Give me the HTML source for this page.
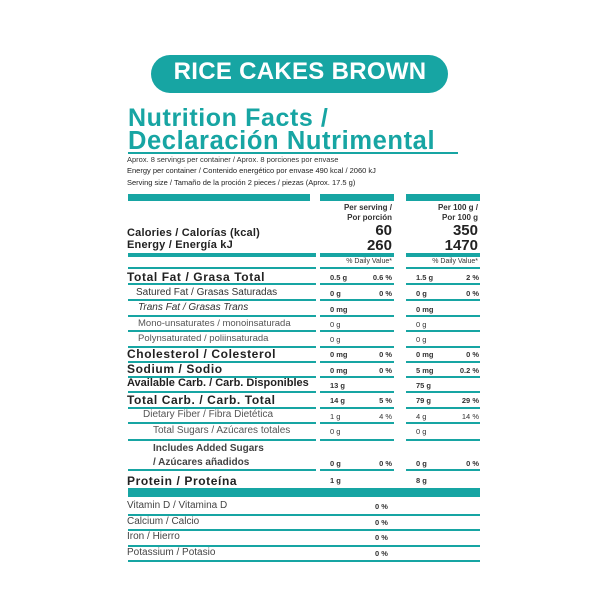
<!DOCTYPE html>
<html><head><meta charset="utf-8"><style>
body{margin:0;width:600px;height:600px;background:#fff;position:relative;overflow:hidden;font-family:"Liberation Sans",sans-serif;color:#333}
.a{position:absolute;white-space:nowrap}
.t{color:#17a5a3;font-weight:bold}
.ln{position:absolute;height:2px;background:#17a5a3}
.b{font-weight:bold}
.r{text-align:right}
.big{font-weight:bold;font-size:12px;letter-spacing:0.6px;color:#222}
</style></head><body>
<div class="a" style="left:151px;top:55px;width:297px;height:38px;background:#17a5a3;border-radius:19px"></div>
<div class="a b" style="left:150px;top:58px;width:300px;text-align:center;color:#fff;font-size:24px;letter-spacing:0.3px">RICE CAKES BROWN</div>
<div class="a t" style="left:128px;top:104px;font-size:25px;letter-spacing:0.6px">Nutrition Facts /</div>
<div class="a t" style="left:128px;top:127px;font-size:25.5px;letter-spacing:0.6px">Declaración Nutrimental</div>
<div class="ln" style="left:128px;top:152px;width:330px;height:1.5px"></div>
<div class="a" style="left:127px;top:155px;font-size:7.5px">Aprox. 8 servings per container / Aprox. 8 porciones por envase</div>
<div class="a" style="left:127px;top:166px;font-size:7.5px;color:#222">Energy per container / Contenido energético por envase 490 kcal / 2060 kJ</div>
<div class="a" style="left:127px;top:178px;font-size:7.5px;color:#222">Serving size / Tamaño de la proción 2 pieces / piezas (Aprox. 17.5 g)</div>
<div class="ln" style="left:128px;top:194px;width:182px;height:7px"></div>
<div class="ln" style="left:320px;top:194px;width:74px;height:7px"></div>
<div class="ln" style="left:406px;top:194px;width:74px;height:7px"></div>
<div class="a b r" style="left:300px;top:203px;width:92px;font-size:8px;line-height:9.5px">Per serving /<br>Por porción</div>
<div class="a b r" style="left:390px;top:203px;width:88px;font-size:8px;line-height:9.5px">Per 100 g /<br>Por 100 g</div>
<div class="a b r" style="left:300px;top:222px;width:92px;font-size:15px;color:#222">60</div>
<div class="a b r" style="left:390px;top:222px;width:88px;font-size:15px;color:#222">350</div>
<div class="a b r" style="left:300px;top:237px;width:92px;font-size:15px;color:#222">260</div>
<div class="a b r" style="left:390px;top:237px;width:88px;font-size:15px;color:#222">1470</div>
<div class="a b" style="left:127px;top:227px;font-size:11px;letter-spacing:0.2px;color:#222">Calories / Calorías (kcal)</div>
<div class="a b" style="left:127px;top:239px;font-size:11px;letter-spacing:0.2px;color:#222">Energy / Energía kJ</div>
<div class="ln" style="left:128px;top:253px;width:188px;height:4px"></div>
<div class="ln" style="left:320px;top:253px;width:74px;height:4px"></div>
<div class="ln" style="left:406px;top:253px;width:74px;height:4px"></div>
<div class="a r" style="left:300px;top:258px;width:92px;font-size:7px">% Daily Value*</div>
<div class="a r" style="left:390px;top:258px;width:88px;font-size:7px">% Daily Value*</div>
<div class="ln" style="left:128px;top:267px;width:188px"></div>
<div class="ln" style="left:320px;top:267px;width:74px"></div>
<div class="ln" style="left:406px;top:267px;width:74px"></div>

<div class="a big" style="left:127px;top:270px">Total Fat / Grasa Total</div>
<div class="a" style="left:136px;top:287px;font-size:10px">Satured Fat / Grasas Saturadas</div>
<div class="a" style="left:138px;top:302px;font-size:10px;font-style:italic">Trans Fat / Grasas Trans</div>
<div class="a" style="left:138px;top:318px;font-size:9.5px;color:#555">Mono-unsaturates / monoinsaturada</div>
<div class="a" style="left:138px;top:333px;font-size:9.5px;color:#555">Polynsaturated / poliinsaturada</div>
<div class="a big" style="left:127px;top:347px">Cholesterol / Colesterol</div>
<div class="a big" style="left:127px;top:362px">Sodium / Sodio</div>
<div class="a big" style="left:127px;top:377px;font-size:11px;letter-spacing:0px">Available Carb. / Carb. Disponibles</div>
<div class="a big" style="left:127px;top:393px">Total Carb. / Carb. Total</div>
<div class="a" style="left:143px;top:409px;font-size:10px;color:#555">Dietary Fiber / Fibra Dietética</div>
<div class="a" style="left:153px;top:425px;font-size:10px;color:#555">Total Sugars / Azúcares totales</div>
<div class="a b" style="left:153px;top:442px;font-size:10px;line-height:14px;color:#444">Includes Added Sugars<br>/ Azúcares añadidos</div>
<div class="a big" style="left:127px;top:474px">Protein / Proteína</div>

<div class="ln" style="left:128px;top:488px;width:352px;height:9px"></div>
<div class="a" style="left:127px;top:500px;font-size:10px;color:#444">Vitamin D / Vitamina D</div>
<div class="a" style="left:127px;top:516px;font-size:10px;color:#444">Calcium / Calcio</div>
<div class="a" style="left:127px;top:531px;font-size:10px;color:#444">Iron / Hierro</div>
<div class="a" style="left:127px;top:547px;font-size:10px;color:#444">Potassium / Potasio</div>
<div class="a b" style="left:375px;top:502px;font-size:7.5px">0 %</div>
<div class="a b" style="left:375px;top:518px;font-size:7.5px">0 %</div>
<div class="a b" style="left:375px;top:533px;font-size:7.5px">0 %</div>
<div class="a b" style="left:375px;top:549px;font-size:7.5px">0 %</div>
<div class="ln" style="left:128px;top:514px;width:352px;height:1.5px"></div>
<div class="ln" style="left:128px;top:529px;width:352px;height:1.5px"></div>
<div class="ln" style="left:128px;top:545px;width:352px;height:1.5px"></div>
<div class="ln" style="left:128px;top:560px;width:352px;height:1.5px"></div>

<script>
var lines=[283,299,315,330,346,361,376,391,407,422,439,469];
lines.forEach(function(y){
[[128,188],[320,74],[406,74]].forEach(function(c){
var d=document.createElement('div');d.className='ln';d.style.left=c[0]+'px';d.style.top=y+'px';d.style.width=c[1]+'px';document.body.appendChild(d);});});
var rows=[[273,'0.5 g','0.6 %','1.5 g','2 %',1],[289,'0 g','0 %','0 g','0 %',1],[305,'0 mg','','0 mg','',1],[320,'0 g','','0 g','',0],[335,'0 g','','0 g','',0],
[350,'0 mg','0 %','0 mg','0 %',1],[366,'0 mg','0 %','5 mg','0.2 %',1],[381,'13 g','','75 g','',1],[396,'14 g','5 %','79 g','29 %',1],[412,'1 g','4 %','4 g','14 %',0],
[427,'0 g','','0 g','',0],[459,'0 g','0 %','0 g','0 %',1],[476,'1 g','','8 g','',1]];
rows.forEach(function(r){
function add(x,t,right){var d=document.createElement('div');d.className='a'+(r[5]?' b':'');d.style.top=r[0]+'px';d.style.fontSize='7.5px';
if(right){d.style.left=(x-40)+'px';d.style.width='40px';d.style.textAlign='right';}else d.style.left=x+'px';d.textContent=t;document.body.appendChild(d);}
add(330,r[1]);add(392,r[2],1);add(416,r[3]);add(479,r[4],1);});
</script>
</body></html>
